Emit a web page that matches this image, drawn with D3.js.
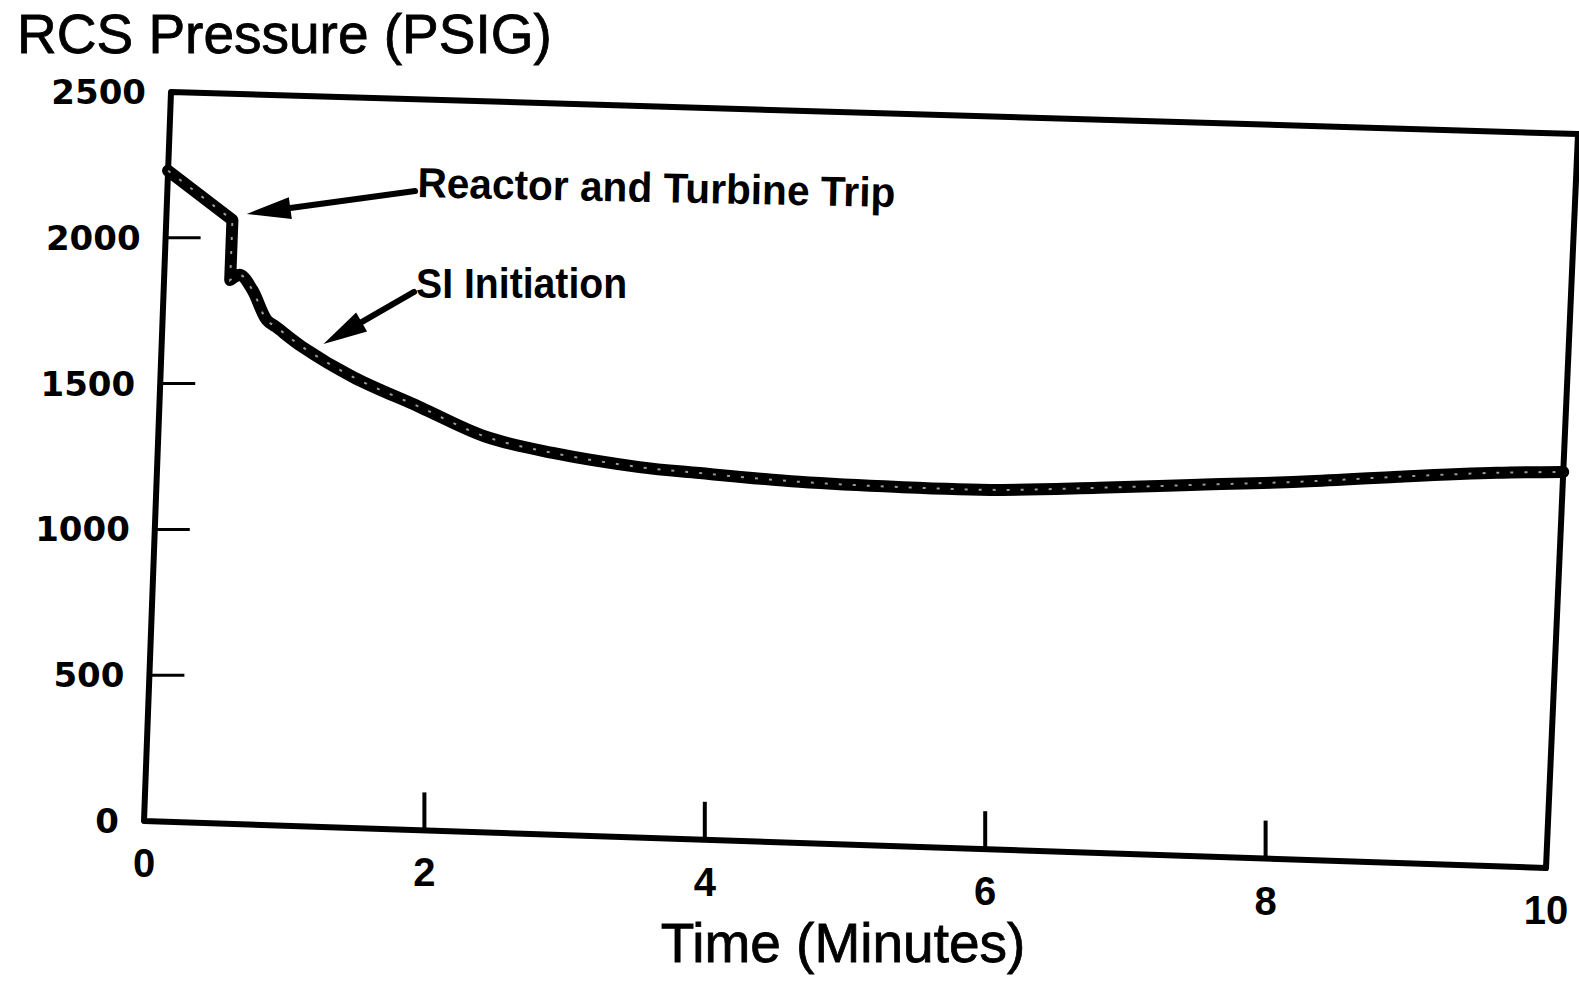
<!DOCTYPE html>
<html>
<head>
<meta charset="utf-8">
<script src="https://cdn.jsdelivr.net/npm/d3@7"></script>
<style>
  body { margin: 0; background: #fff; }
  text { font-family: "Liberation Sans", Arial, sans-serif; fill: #000; }
</style>
</head>
<body>
<svg id="chart" width="1579" height="984"></svg>
<script>
// data
const timeMin  = [0, 0.47, 0.47, 0.54, 0.63, 0.74, 0.81, 1.0, 1.37, 1.85, 2.33, 2.81, 3.43, 3.86, 4.57, 5.28, 5.99, 6.70, 7.41, 8.12, 8.83, 9.53, 10];
const pressure = [2230, 2068, 1862, 1881, 1831, 1729, 1706, 1641, 1543, 1448, 1353, 1305, 1266, 1252, 1233, 1226, 1227, 1245, 1266, 1287, 1315, 1339, 1349];

const xTickValues = [0, 2, 4, 6, 8, 10];
const yTickValues = [0, 500, 1000, 1500, 2000, 2500];
const xTitle = "Time (Minutes)";
const yTitle = "RCS Pressure (PSIG)";

// annotations: label, arrow tail (t, p), arrow tip (t, p)
const noteLabels = ["Reactor and Turbine Trip", "SI Initiation"];
const noteTail   = [[1.76, 2186], [1.78, 1841]];
const noteTip    = [[0.57, 2090], [1.15, 1653]];

const svg = d3.select("#chart");

// the page was scanned skewed, so the plot box is a quadrilateral
const corner = {tl: [171, 92], tr: [1578, 134], br: [1546, 868], bl: [144, 821]};

const x = d3.scaleLinear().domain([0, 10]).range([0, 1]);
const y = d3.scaleLinear().domain([0, 2500]).range([0, 1]);

function page(t, p) { // bilinear map of data -> skewed page
  const s = x(t), r = y(p);
  const px = (1-s)*(1-r)*corner.bl[0] + s*(1-r)*corner.br[0] + (1-s)*r*corner.tl[0] + s*r*corner.tr[0];
  const py = (1-s)*(1-r)*corner.bl[1] + s*(1-r)*corner.br[1] + (1-s)*r*corner.tl[1] + s*r*corner.tr[1];
  return [px, py];
}

// frame
const frame = [page(0,0), page(10,0), page(10,2500), page(0,2500)];
svg.append("path")
  .attr("d", "M" + frame.join("L") + "Z")
  .attr("fill", "none")
  .attr("stroke", "#000")
  .attr("stroke-width", 6)
  .attr("stroke-linejoin", "round");

// x ticks (drawn straight up from the skewed axis) + labels
xTickValues.forEach(function(v){
  const p0 = page(v, 0);
  if (v > 0 && v < 10) {
    svg.append("line")
      .attr("x1", p0[0]).attr("y1", p0[1])
      .attr("x2", p0[0]).attr("y2", p0[1] - 38)
      .attr("stroke", "#000").attr("stroke-width", 4);
  }
  svg.append("text")
    .attr("x", p0[0]).attr("y", p0[1] + 42)
    .attr("text-anchor", "middle")
    .attr("dominant-baseline", "central")
    .attr("font-size", 40).attr("font-weight", "bold")
    .text(v);
});

// y ticks (horizontal, inward) + labels
yTickValues.forEach(function(v){
  const p0 = page(0, v);
  if (v > 0 && v < 2500) {
    svg.append("line")
      .attr("x1", p0[0]).attr("y1", p0[1])
      .attr("x2", p0[0] + 35).attr("y2", p0[1])
      .attr("stroke", "#000").attr("stroke-width", 3);
  }
  svg.append("text")
    .attr("x", p0[0] - 25).attr("y", p0[1])
    .attr("text-anchor", "end")
    .attr("dominant-baseline", "central")
    .style("font-family", "'DejaVu Sans', sans-serif")
    .attr("font-size", 34).attr("font-weight", "bold")
    .text(v);
});

// titles
svg.append("text")
  .attr("x", 17).attr("y", 53)
  .attr("font-size", 55)
  .attr("stroke", "#000").attr("stroke-width", 0.8)
  .text(yTitle);

svg.append("text")
  .attr("x", 843).attr("y", 962)
  .attr("text-anchor", "middle")
  .attr("font-size", 55)
  .attr("stroke", "#000").attr("stroke-width", 0.8)
  .text(xTitle);

// pressure curve: straight up to the trip drop, smooth afterwards
const pts = timeMin.map(function(t, i){ return page(t, pressure[i]); });
const head = d3.line().curve(d3.curveLinear)(pts.slice(0, 3));
const tail = d3.line().curve(d3.curveCatmullRom.alpha(0.5))(pts.slice(2));
const curveD = head + tail.replace(/^M[^A-Za-z]*/, "");

svg.append("path")
  .attr("d", curveD)
  .attr("fill", "none")
  .attr("stroke", "#000")
  .attr("stroke-width", 12)
  .attr("stroke-linejoin", "round")
  .attr("stroke-linecap", "round");

svg.append("path")
  .attr("d", curveD)
  .attr("fill", "none")
  .attr("stroke", "#fff")
  .attr("stroke-width", 2)
  .attr("stroke-dasharray", "3,11")
  .attr("opacity", 0.6);

// annotations with arrows
const noteLen = [478, 211];
noteLabels.forEach(function(label, i){
  const tl = page(noteTail[i][0], noteTail[i][1]);
  const tp = page(noteTip[i][0], noteTip[i][1]);
  const ang = Math.atan2(tp[1] - tl[1], tp[0] - tl[0]);
  const headLen = 44, headW = 11;
  const base = [tp[0] - headLen*Math.cos(ang), tp[1] - headLen*Math.sin(ang)];

  svg.append("line")
    .attr("x1", tl[0]).attr("y1", tl[1])
    .attr("x2", base[0]).attr("y2", base[1])
    .attr("stroke", "#000").attr("stroke-width", 6)
    .attr("stroke-linecap", "round");

  const tri = [
    tp,
    [base[0] + headW*Math.sin(ang), base[1] - headW*Math.cos(ang)],
    [base[0] - headW*Math.sin(ang), base[1] + headW*Math.cos(ang)]
  ];
  svg.append("path")
    .attr("d", "M" + tri.join("L") + "Z")
    .attr("fill", "#000");

  const tx = tl[0] + 2, ty = tl[1] + (i === 0 ? 6 : 6);
  svg.append("text")
    .attr("x", tx).attr("y", ty)
    .attr("font-size", 42).attr("font-weight", "bold")
    .attr("textLength", noteLen[i])
    .attr("lengthAdjust", "spacingAndGlyphs")
    .attr("transform", "rotate(" + (i === 0 ? 1.2 : 0) + "," + tx + "," + ty + ")")
    .text(label);
});
</script>
</body>
</html>
